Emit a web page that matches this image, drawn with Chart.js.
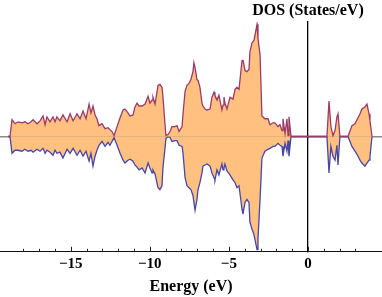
<!DOCTYPE html>
<html>
<head>
<meta charset="utf-8">
<script src="https://cdn.jsdelivr.net/npm/chart.js@4.4.1/dist/chart.umd.min.js"></script>
<style>
  html, body { margin: 0; padding: 0; background: #fff; }
  #wrap { width: 382px; height: 297px; }
</style>
</head>
<body>
<div id="wrap"><canvas id="dos" width="382" height="297"></canvas></div>
<script>
// --- Data ---
const energy = [-18.96, -18.84, -18.71, -18.52, -18.33, -18.08, -17.89, -17.70, -17.51, -17.38,
  -17.13, -16.94, -16.75, -16.62, -16.50, -16.31, -16.12, -15.99, -15.87, -15.68,
  -15.49, -15.23, -15.04, -14.85, -14.60, -14.41, -14.22, -14.03, -13.84, -13.72,
  -13.59, -13.46, -13.34, -13.21, -13.02, -12.83, -12.64, -12.52, -12.39, -12.26,
  -12.07, -11.88, -11.69, -11.57, -11.38, -11.25, -11.06, -10.94, -10.81, -10.68,
  -10.49, -10.30, -10.11, -9.99, -9.86, -9.80, -9.67, -9.48, -9.36, -9.23,
  -9.17, -9.04, -8.98, -8.85, -8.72, -8.60, -8.41, -8.28, -8.15, -7.96,
  -7.90, -7.77, -7.65, -7.52, -7.40, -7.27, -7.21, -7.14, -7.02, -6.95,
  -6.83, -6.70, -6.64, -6.51, -6.38, -6.19, -6.07, -5.94, -5.88, -5.75,
  -5.63, -5.44, -5.37, -5.31, -5.25, -5.12, -4.93, -4.74, -4.61, -4.49,
  -4.36, -4.17, -4.11, -3.98, -3.86, -3.73, -3.67, -3.54, -3.41, -3.22,
  -3.16, -3.03, -2.91, -2.72, -2.53, -2.40, -2.21, -2.09, -1.90, -1.77,
  -1.64, -1.58, -1.45, -1.33, -1.26, -1.20, -1.07, -0.95, 1.20, 1.33,
  1.45, 1.58, 1.71, 1.83, 1.90, 2.02, 2.53, 2.78, 2.97, 3.10,
  3.29, 3.41, 3.60, 3.73, 3.86, 3.92, 4.05];

const spinUp = [0, 0, 0.88, 0.67, 0.77, 0.72, 0.77, 0.67, 0.77, 0.88,
  0.67, 0.82, 1.08, 0.62, 1.03, 0.77, 1.03, 0.77, 1.03, 0.82,
  1.13, 0.77, 1.19, 0.82, 1.19, 0.93, 1.34, 0.93, 1.70, 1.24,
  1.60, 1.13, 0.93, 0.57, 0.67, 0.41, 0.46, 0.36, 0.26, 0.05,
  0.52, 0.98, 1.39, 1.44, 1.24, 1.08, 1.13, 1.55, 1.75, 1.60,
  1.60, 1.70, 2.11, 1.75, 1.91, 2.06, 1.70, 2.68, 2.73, 2.58,
  2.11, 0.67, 0.05, 0.10, 0.26, 0.52, 0.52, 0.57, 0.26, 0.52,
  1.19, 2.37, 2.68, 2.78, 2.99, 3.40, 3.87, 3.61, 2.99, 2.94,
  2.58, 1.75, 1.60, 1.44, 1.39, 1.44, 2.06, 2.32, 2.16, 1.91,
  2.16, 1.39, 1.65, 2.06, 1.75, 1.44, 2.06, 1.96, 2.47, 2.58,
  2.47, 3.97, 4.02, 3.45, 3.40, 3.51, 4.43, 4.90, 5.05, 5.88,
  5.15, 4.28, 1.08, 0.93, 0.93, 0.62, 0.72, 0.72, 0.52, 0.62,
  0.31, 0.93, 0.15, 0.93, 0.05, 1.03, 0, 0, 0, 1.86,
  0.52, 0.05, 0.31, 1.03, 1.19, 0, 0, 0.57, 0.67, 0.88,
  1.19, 1.44, 1.55, 1.70, 1.19, 0.82, 0];

const spinDown = [0, 0, -0.88, -0.72, -0.72, -0.77, -0.67, -0.77, -0.72, -0.82,
  -0.67, -0.77, -0.62, -0.88, -0.72, -0.82, -0.98, -0.72, -0.88, -0.82,
  -1.13, -0.67, -0.88, -0.62, -0.98, -0.72, -1.03, -0.77, -1.29, -0.88,
  -1.55, -1.03, -0.72, -0.46, -0.26, -0.52, -0.31, -0.46, -0.26, -0.05,
  -0.46, -0.88, -1.24, -1.39, -1.24, -1.19, -1.29, -1.49, -1.60, -1.75,
  -1.65, -1.91, -1.39, -1.65, -1.91, -1.75, -1.96, -2.68, -2.78, -2.58,
  -1.65, -0.62, -0.10, 0, -0.05, -0.26, -0.21, -0.21, -0.46, -0.52,
  -0.88, -2.16, -2.58, -2.68, -2.78, -3.09, -3.45, -3.87, -3.30, -2.78,
  -2.42, -1.91, -1.55, -1.49, -1.44, -1.55, -1.91, -2.16, -2.27, -1.75,
  -2.01, -1.44, -1.75, -1.65, -1.44, -1.80, -2.01, -2.27, -2.42, -2.68,
  -2.58, -3.81, -4.07, -3.45, -3.30, -3.45, -4.48, -4.85, -5.15, -5.93,
  -5.36, -3.30, -1.13, -0.77, -0.67, -0.62, -0.52, -0.52, -0.36, -0.46,
  -0.52, -1.03, -0.36, -0.77, -0.21, -1.03, 0, 0, 0, -1.91,
  -0.52, -1.03, -1.24, -0.46, -1.49, 0, 0, -0.52, -0.77, -0.93,
  -1.24, -1.39, -1.55, -1.39, -1.24, -1.03, 0];

const xMin = -19.47;
const xMax = 4.68;
const yMin = -6.04;
const yMax = 6;
const xTitle = 'Energy (eV)';
const yTitle = 'DOS (States/eV)';

// --- Styles ---
const fillColor = 'rgb(255, 192, 128)';
const upColor = '#9a3a6a';
const downColor = '#4646a8';
const serif = '"Liberation Serif", "Times New Roman", serif';

const toPoints = (ys) => energy.map((e, i) => ({ x: e, y: ys[i] }));

// small inward ticks on the energy axis + the DOS label above the x=0 axis
const axisDecor = {
  id: 'axisDecor',
  afterDraw(chart) {
    const { ctx, scales: { x } } = chart;
    const base = chart.chartArea.bottom;
    ctx.save();
    ctx.strokeStyle = '#222';
    ctx.lineWidth = 1;
    x.ticks.forEach(t => {
      if (!Number.isInteger(t.value)) return;
      const px = Math.round(x.getPixelForValue(t.value)) + 0.5;
      const len = t.value % 5 === 0 ? 5 : 3;
      ctx.beginPath();
      ctx.moveTo(px, base);
      ctx.lineTo(px, base - len);
      ctx.stroke();
    });
    ctx.fillStyle = '#000';
    ctx.font = 'bold 16px ' + serif;
    ctx.textAlign = 'center';
    ctx.textBaseline = 'alphabetic';
    ctx.fillText(yTitle, x.getPixelForValue(0), 15);
    ctx.restore();
  }
};

new Chart(document.getElementById('dos'), {
  type: 'line',
  data: {
    datasets: [
      {
        label: 'up',
        data: toPoints(spinUp),
        borderColor: upColor,
        backgroundColor: fillColor,
        borderWidth: 1.3,
        fill: 'origin',
        pointRadius: 0,
        tension: 0
      },
      {
        label: 'down',
        data: toPoints(spinDown),
        borderColor: downColor,
        backgroundColor: fillColor,
        borderWidth: 1.3,
        fill: 'origin',
        pointRadius: 0,
        tension: 0
      }
    ]
  },
  options: {
    responsive: false,
    animation: false,
    layout: { padding: { top: 22, left: 0, right: 0, bottom: 0 } },
    plugins: {
      legend: { display: false },
      tooltip: { enabled: false }
    },
    scales: {
      x: {
        type: 'linear',
        min: xMin,
        max: xMax,
        border: { color: '#111', width: 1 },
        grid: { drawOnChartArea: false, drawTicks: false },
        ticks: {
          stepSize: 1,
          autoSkip: false,
          maxRotation: 0,
          padding: 3,
          color: '#000',
          font: { family: serif, size: 15, weight: 'bold', lineHeight: 1.2 },
          callback: (v) => (Number.isInteger(v) && v % 5 === 0) ? (v < 0 ? '\u2212' + Math.abs(v) : String(v)) : ''
        },
        title: {
          display: true,
          text: xTitle,
          color: '#000',
          font: { family: serif, size: 16, weight: 'bold', lineHeight: 1.2 },
          padding: { top: 1, bottom: 1 }
        },
        // the ticks padding is also added left and right; the plot should run edge to edge
        afterFit: (scale) => {
          scale.paddingLeft = 0;
          scale.paddingRight = 0;
        }
      },
      y: {
        type: 'linear',
        position: { x: 0 },
        min: yMin,
        max: yMax,
        z: 1,
        border: { color: '#000', width: 1.3 },
        grid: {
          drawTicks: false,
          lineWidth: 1.5,
          color: (c) => c.tick && c.tick.value === 0 ? 'rgba(90, 90, 90, 0.7)' : 'rgba(0,0,0,0)'
        },
        ticks: { display: false, stepSize: 6 }
      }
    }
  },
  plugins: [axisDecor]
});
</script>
</body>
</html>
